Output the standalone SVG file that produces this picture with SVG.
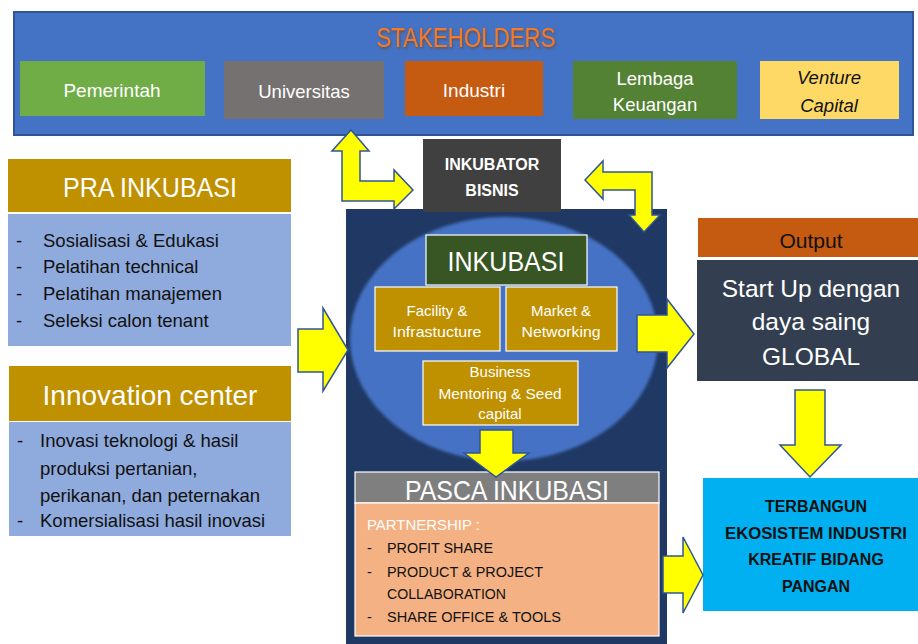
<svg xmlns="http://www.w3.org/2000/svg" width="918" height="644" viewBox="0 0 918 644">
<defs>
<style>
text{font-family:"Liberation Sans",Arial,sans-serif}
.w{fill:#ffffff}
.k{fill:#111111}
.c{text-anchor:middle}
.arrow{fill:#ffff00;stroke:#2f5597;stroke-width:1.5;stroke-linejoin:miter}
.wb{stroke:#ffffff;stroke-width:1.2}
</style>
<filter id="soft" x="-10%" y="-10%" width="120%" height="120%">
<feGaussianBlur stdDeviation="1.6"/>
</filter>
<filter id="glow" x="-10%" y="-30%" width="120%" height="160%">
<feDropShadow dx="1" dy="1.5" stdDeviation="1.2" flood-color="#7a3a10" flood-opacity="0.7"/>
</filter>
<clipPath id="praclip"><rect x="8" y="214" width="283" height="114"/></clipPath>
</defs>

<g id="stakeholders">
<rect x="14" y="12" width="899" height="123" fill="#4472c4" stroke="#2f5597" stroke-width="2"/>
<text x="466" y="47" class="c" font-size="28" fill="#f47a28" textLength="179" lengthAdjust="spacingAndGlyphs" filter="url(#glow)">STAKEHOLDERS</text>
</g>
<g id="pemerintah">
<rect x="20" y="61" width="185" height="55" fill="#70ad47"/>
<text x="112" y="97" class="c w" font-size="19">Pemerintah</text>
</g>
<g id="universitas">
<rect x="224" y="61" width="160" height="58" fill="#767171"/>
<text x="304" y="98" class="c w" font-size="18.5">Universitas</text>
</g>
<g id="industri">
<rect x="405" y="61" width="138" height="55" fill="#c55a11"/>
<text x="474" y="97" class="c w" font-size="19">Industri</text>
</g>
<g id="lembaga">
<rect x="573" y="61" width="164" height="58" fill="#548235"/>
<text x="655" y="85" class="c w" font-size="18.5">Lembaga</text>
<text x="655" y="111" class="c w" font-size="18.5">Keuangan</text>
</g>
<g id="venture">
<rect x="760" y="61" width="139" height="58" fill="#ffd966"/>
<text x="829" y="84" class="c k" font-size="18.5" font-style="italic">Venture</text>
<text x="829" y="112" class="c k" font-size="18.5" font-style="italic">Capital</text>
</g>

<g id="pra-inkubasi">
<rect x="8" y="159" width="283" height="53" fill="#bf9000"/>
<text x="150" y="197" class="c w" font-size="28" textLength="174" lengthAdjust="spacingAndGlyphs">PRA INKUBASI</text>
<rect x="8" y="214" width="283" height="132" fill="#8faadc"/>
<g font-size="18.5" class="k">
<text x="16" y="247">-</text><text x="43" y="247">Sosialisasi &amp; Edukasi</text>
<text x="16" y="273">-</text><text x="43" y="273">Pelatihan technical</text>
<text x="16" y="300">-</text><text x="43" y="300">Pelatihan manajemen</text>
<g clip-path="url(#praclip)"><text x="16" y="327">-</text><text x="43" y="327">Seleksi calon tenant</text></g>
</g>
</g>

<g id="innovation-center">
<rect x="9" y="366" width="282" height="55" fill="#bf9000"/>
<text x="150" y="405" class="c w" font-size="28">Innovation center</text>
<rect x="9" y="422" width="282" height="114" fill="#8faadc"/>
<g font-size="18.5" class="k">
<text x="17" y="447">-</text><text x="40" y="447">Inovasi teknologi &amp; hasil</text>
<text x="40" y="475">produksi pertanian,</text>
<text x="40" y="502">perikanan, dan peternakan</text>
<text x="17" y="527">-</text><text x="40" y="527">Komersialisasi hasil inovasi</text>
</g>
</g>

<g id="inkubasi-area">
<rect x="346" y="209" width="321" height="440" fill="#203864"/>
<ellipse cx="504" cy="339" rx="154" ry="122" fill="#4472c4" filter="url(#soft)"/>
</g>

<g id="inkubator-bisnis">
<rect x="423" y="139" width="138" height="73" fill="#404040"/>
<text x="492" y="170" class="c w" font-size="16" font-weight="bold">INKUBATOR</text>
<text x="492" y="196" class="c w" font-size="16" font-weight="bold">BISNIS</text>
</g>

<g id="inkubasi">
<rect x="426" y="235" width="161" height="50" fill="#375623" class="wb"/>
<text x="506" y="271" class="c w" font-size="28" textLength="117" lengthAdjust="spacingAndGlyphs">INKUBASI</text>
</g>
<g id="facility">
<rect x="375" y="287" width="125" height="64" fill="#bf9000" class="wb"/>
<text x="437" y="316" class="c w" font-size="15">Facility &amp;</text>
<text x="437" y="337" class="c w" font-size="15" textLength="89" lengthAdjust="spacingAndGlyphs">Infrastucture</text>
</g>
<g id="market">
<rect x="506" y="287" width="111" height="64" fill="#bf9000" class="wb"/>
<text x="561" y="316" class="c w" font-size="15">Market &amp;</text>
<text x="561" y="337" class="c w" font-size="15" textLength="79" lengthAdjust="spacingAndGlyphs">Networking</text>
</g>
<g id="business">
<rect x="423" y="361" width="155" height="64" fill="#bf9000" class="wb"/>
<text x="500" y="377" class="c w" font-size="15">Business</text>
<text x="500" y="399" class="c w" font-size="15" textLength="123" lengthAdjust="spacingAndGlyphs">Mentoring &amp; Seed</text>
<text x="500" y="419" class="c w" font-size="15">capital</text>
</g>

<g id="pasca-inkubasi">
<rect x="355" y="472" width="304" height="31" fill="#7f7f7f" class="wb"/>
<text x="507" y="500" class="c w" font-size="28" textLength="204" lengthAdjust="spacingAndGlyphs">PASCA INKUBASI</text>
<rect x="355" y="503" width="304" height="133" fill="#f4b183" class="wb"/>
<text x="367" y="530" class="w" font-size="15" textLength="113" lengthAdjust="spacingAndGlyphs">PARTNERSHIP :</text>
<g font-size="14.5" class="k">
<text x="367" y="553">-</text><text x="387" y="553" textLength="106" lengthAdjust="spacingAndGlyphs">PROFIT SHARE</text>
<text x="367" y="577">-</text><text x="387" y="577" textLength="156" lengthAdjust="spacingAndGlyphs">PRODUCT &amp; PROJECT</text>
<text x="387" y="599" textLength="119" lengthAdjust="spacingAndGlyphs">COLLABORATION</text>
<text x="367" y="622">-</text><text x="387" y="622" textLength="174" lengthAdjust="spacingAndGlyphs">SHARE OFFICE &amp; TOOLS</text>
</g>
</g>

<g id="output">
<rect x="698" y="218" width="220" height="39" fill="#c55a11"/>
<text x="811" y="248" class="c k" font-size="21">Output</text>
</g>
<g id="startup">
<rect x="697" y="260" width="221" height="121" fill="#333f50"/>
<text x="811" y="297" class="c w" font-size="24.5">Start Up dengan</text>
<text x="811" y="330" class="c w" font-size="24.5">daya saing</text>
<text x="811" y="365" class="c w" font-size="24.5">GLOBAL</text>
</g>
<g id="terbangun">
<rect x="703" y="478" width="215" height="133" fill="#00b0f0"/>
<g font-size="16" font-weight="bold" class="c k">
<text x="816" y="512">TERBANGUN</text>
<text x="816" y="539" textLength="182" lengthAdjust="spacingAndGlyphs">EKOSISTEM INDUSTRI</text>
<text x="816" y="565">KREATIF BIDANG</text>
<text x="816" y="592">PANGAN</text>
</g>
</g>

<g id="connectors">
<path class="arrow" d="M351,130 L369,151 L360,151 L360,181 L394,181 L394,170 L413,190 L394,209 L394,201 L342,201 L342,151 L332,151 Z"/>
<path class="arrow" d="M585,180 L603,161 L603,172 L652,172 L652,215 L660,215 L644,232 L629,215 L635,215 L635,190 L603,190 L603,199 Z"/>
<path class="arrow" d="M298,329 L323,329 L323,308 L348,350 L323,391 L323,372 L298,372 Z"/>
<path class="arrow" d="M637,315 L667,315 L667,299 L694,334 L667,368 L667,352 L637,352 Z"/>
<path class="arrow" d="M480,430 L513,430 L513,453 L529,453 L496,477 L464,453 L480,453 Z"/>
<path class="arrow" d="M795,390 L825,390 L825,445 L841,445 L810,477 L780,445 L795,445 Z"/>
<path class="arrow" d="M663,556 L683,556 L683,537 L703,575 L683,613 L683,593 L663,593 Z"/>
</g>
</svg>
